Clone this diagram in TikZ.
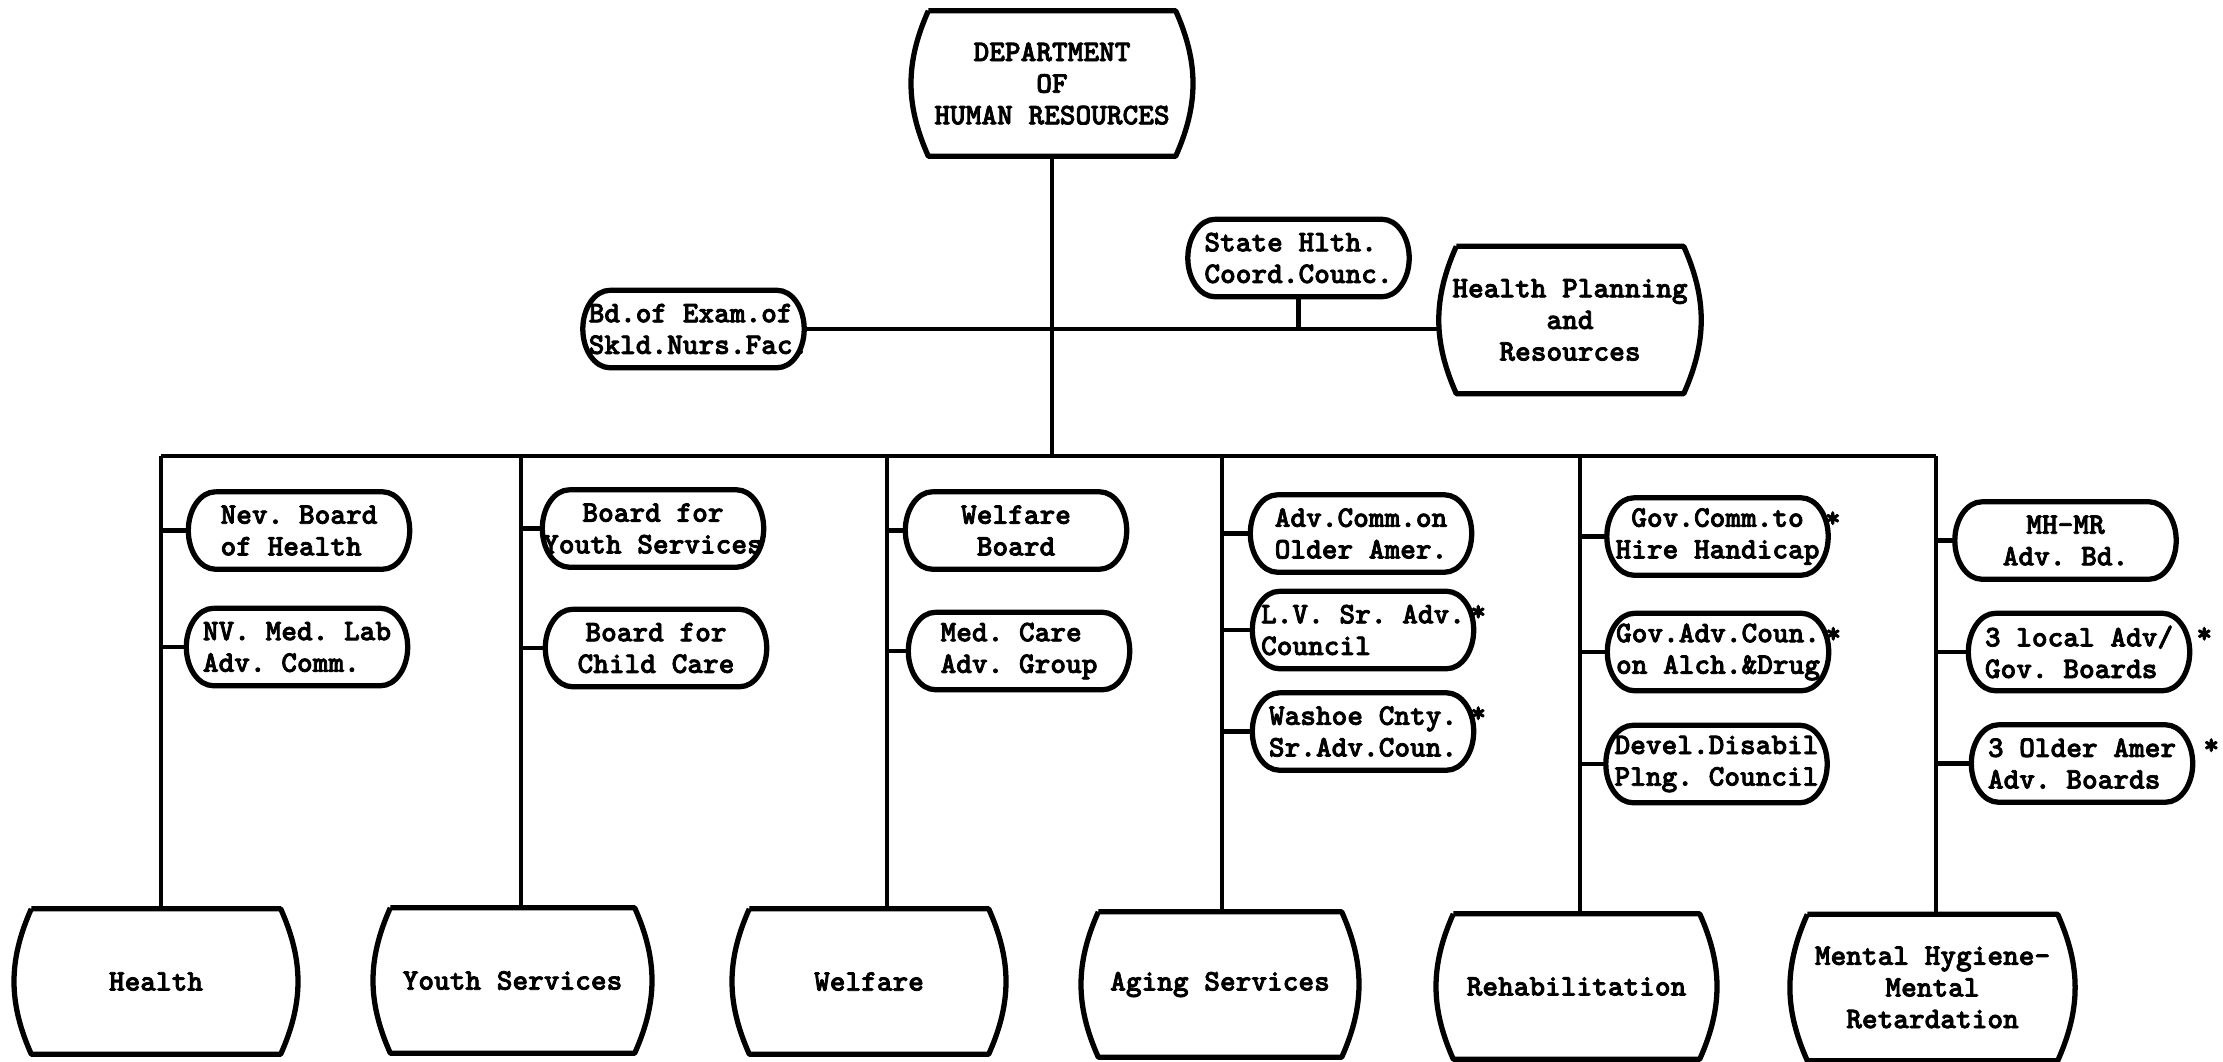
\documentclass[tikz,border=0pt]{standalone}
\usepackage{fontspec}
\newfontfamily\typefont{lmmonolt10-bold.otf}[FakeBold=2.5]
\usepackage{tikz}
\usetikzlibrary{positioning,calc}

\tikzset{
  typed/.style={font=\typefont\frenchspacing\fontsize{8.5}{9}\selectfont},
  office/.style={typed, rectangle, minimum width=#1, minimum height=1.44cm, inner sep=0pt, align=center},
  council/.style={rectangle, minimum width=2.2cm, minimum height=0.76cm, inner sep=0pt,
    label={[typed, inner sep=0pt, align=left]center:{#1}}},
  councilc/.style={rectangle, minimum width=2.2cm, minimum height=0.76cm, inner sep=0pt,
    label={[typed, inner sep=0pt, align=center]center:{#1}}},
  flagged/.style={label={[typed, inner sep=0pt, anchor=west, xshift=#1, yshift=0.17cm]east:*}},
  flagged/.default=-0.04cm,
  outline/.style={line width=1.5pt, line join=round},
  link/.style={line width=1.3pt}
}

\begin{document}
\begin{tikzpicture}
    \useasboundingbox (0,0) rectangle (22.23,-10.61);
    \def\bulge{0.17cm}
    \def\capw{0.27cm}
    \def\busy{-4.56}

    % Department at the top
    \node[office=2.80cm] (dept) at (10.52,-0.835) {DEPARTMENT\\OF\\HUMAN RESOURCES};

    % Staff level
    \node[council={\hspace*{0.1cm}Bd.of Exam.of\\\hspace*{0.1cm}Skld.Nurs.Fac.}] (bd) at (6.935,-3.29) {};
    \node[council={State Hlth.\\Coord.Counc.}] (shcc) at (12.985,-2.58) {};
    \node[office=2.60cm, minimum height=1.46cm] (hpr) at (15.70,-3.20) {Health Planning\\and\\Resources};

    % Bus and column heads
    \coordinate (c1) at (1.61,\busy);
    \coordinate (c2) at (5.21,\busy);
    \coordinate (c3) at (8.87,\busy);
    \coordinate (c4) at (12.22,\busy);
    \coordinate (c5) at (15.80,\busy);
    \coordinate (c6) at (19.36,\busy);

    % Divisions
    \node[office=2.82cm] (health) at (1.56,-9.815) {Health};
    \node[office=2.77cm] (youth) at (5.125,-9.805) {Youth Services};
    \node[office=2.72cm] (welfare) at (8.69,-9.815) {Welfare};
    \node[office=2.76cm] (aging) at (12.20,-9.845) {Aging Services};
    \node[office=2.79cm] (rehab) at (15.765,-9.865) {Rehabilitation};
    \node[office=2.83cm, minimum height=1.45cm] (mental) at (19.325,-9.875) {Mental Hygiene-\\Mental\\Retardation};

    % Boards of Health
    \node[council={Nev. Board\\of Health}] (nbh) at (2.99,-5.305) {};
    \node[council={NV. Med. Lab\\Adv. Comm.}] (nml) at (2.97,-6.47) {};

    % Boards of Youth Services
    \node[councilc={Board for\\Youth Services}] (bys) at (6.53,-5.285) {};
    \node[councilc={Board for\\Child Care}] (bcc) at (6.56,-6.48) {};

    % Boards of Welfare
    \node[councilc={Welfare\\Board}] (wb) at (10.16,-5.305) {};
    \node[council={Med. Care\\Adv. Group}] (mca) at (10.19,-6.51) {};

    % Boards of Aging Services
    \node[council={Adv.Comm.on\\Older Amer.}] (acoa) at (13.61,-5.335) {};
    \node[council={L.V. Sr. Adv.\\Council}, flagged] (lvsr) at (13.63,-6.30) {};
    \node[council={Washoe Cnty.\\Sr.Adv.Coun.}, flagged] (washoe) at (13.63,-7.315) {};

    % Boards of Rehabilitation
    \node[councilc={Gov.Comm.to\\Hire Handicap}, flagged] (gch) at (17.175,-5.365) {};
    \node[council={Gov.Adv.Coun.\\on Alch.\&Drug}, flagged] (gac) at (17.18,-6.52) {};
    \node[council={Devel.Disabil\\Plng. Council}] (ddp) at (17.165,-7.64) {};

    % Boards of Mental Hygiene
    \node[councilc={MH-MR\\Adv. Bd.}] (mhmr) at (20.655,-5.405) {};
    \node[council={3 local Adv/\\Gov. Boards}, flagged=0.06cm] (local) at (20.79,-6.52) {};
    \node[council={3 Older Amer\\Adv. Boards}, flagged=0.1cm] (older) at (20.82,-7.635) {};

    % Barrel outlines
    \foreach \n in {dept,hpr,health,youth,welfare,aging,rehab,mental}
      \draw[outline] ([xshift=\bulge]\n.north west) -- ([xshift=-\bulge]\n.north east)
        to[bend left=24] ([xshift=-\bulge]\n.south east) -- ([xshift=\bulge]\n.south west)
        to[bend left=24] ([xshift=\bulge]\n.north west);

    % Rounded outlines
    \foreach \n in {bd,shcc,nbh,nml,bys,bcc,wb,mca,acoa,lvsr,washoe,gch,gac,ddp,mhmr,local,older}
      \draw[outline] ([xshift=\capw]\n.north west) -- ([xshift=-\capw]\n.north east)
        .. controls +(0.15,0) and +(0,0.21) .. (\n.east)
        .. controls +(0,-0.21) and +(0.15,0) .. ([xshift=-\capw]\n.south east)
        -- ([xshift=\capw]\n.south west)
        .. controls +(-0.15,0) and +(0,-0.21) .. (\n.west)
        .. controls +(0,0.21) and +(-0.15,0) .. ([xshift=\capw]\n.north west);

    % Trunk and staff line
    \draw[link] (dept.south) -- (dept.south |- c1);
    \draw[link] (bd.east) -- (bd.east -| hpr.west);
    \draw[link] (shcc.south) -- (shcc.south |- bd.east);

    % Bus
    \draw[link] (c1) -- (c6);

    % Columns down to the divisions
    \draw[link] (c1) -- (c1 |- health.north);
    \draw[link] (c2) -- (c2 |- youth.north);
    \draw[link] (c3) -- (c3 |- welfare.north);
    \draw[link] (c4) -- (c4 |- aging.north);
    \draw[link] (c5) -- (c5 |- rehab.north);
    \draw[link] (c6) -- (c6 |- mental.north);

    % Branches to the boards
    \draw[link] (nbh.west -| c1) -- (nbh.west);
    \draw[link] (nml.west -| c1) -- (nml.west);
    \draw[link] (bys.west -| c2) -- (bys.west);
    \draw[link] (bcc.west -| c2) -- (bcc.west);
    \draw[link] (wb.west -| c3) -- (wb.west);
    \draw[link] (mca.west -| c3) -- (mca.west);
    \draw[link] (acoa.west -| c4) -- (acoa.west);
    \draw[link] (lvsr.west -| c4) -- (lvsr.west);
    \draw[link] (washoe.west -| c4) -- (washoe.west);
    \draw[link] (gch.west -| c5) -- (gch.west);
    \draw[link] (gac.west -| c5) -- (gac.west);
    \draw[link] (ddp.west -| c5) -- (ddp.west);
    \draw[link] (mhmr.west -| c6) -- (mhmr.west);
    \draw[link] (local.west -| c6) -- (local.west);
    \draw[link] (older.west -| c6) -- (older.west);

\end{tikzpicture}
\end{document}
